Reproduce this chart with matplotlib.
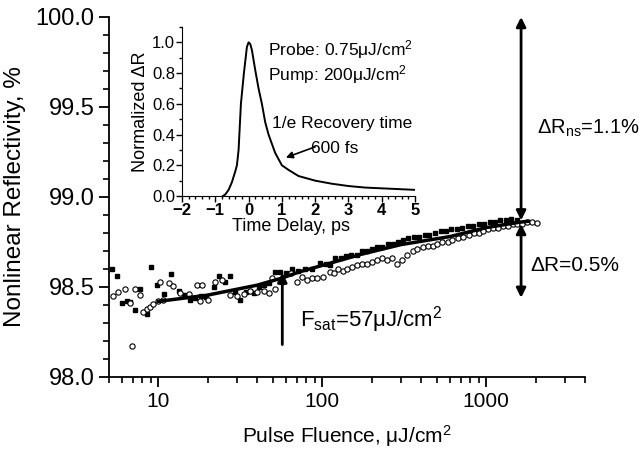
import matplotlib
matplotlib.use("Agg")
import matplotlib.pyplot as plt
from matplotlib.ticker import (MultipleLocator, FixedLocator, FixedFormatter,
                               NullFormatter, FormatStrFormatter)

plt.rcParams['font.family'] = ['Liberation Sans', 'DejaVu Sans']
plt.rcParams['mathtext.fontset'] = 'custom'
plt.rcParams['mathtext.rm'] = 'Liberation Sans'
plt.rcParams['mathtext.it'] = 'Liberation Sans:italic'

# filled squares
sq_F = [5.2, 5.6, 6.0, 6.45, 6.75, 7.2, 7.7, 8.5, 9.06, 9.8, 10.8, 12, 13.3, 14.3,
        15.5, 16.8, 18.2, 19.6, 21.7, 23.3, 25.6, 27.5, 29.5, 31.6, 34, 36, 38.1,
        41, 44, 47, 51.7, 55.5, 60, 65.5, 71, 78, 86, 97, 105, 112, 120, 130, 140,
        150, 162, 175, 188, 200, 215, 230, 250, 270, 290, 310, 335, 360, 390, 420,
        450, 490, 530, 570, 610, 660, 710, 770, 830, 900, 970, 1050, 1130, 1220,
        1320, 1420, 1530]
sq_R = [98.60, 98.56, 98.41, 98.42, 98.415, 98.37, 98.49, 98.35, 98.61, 98.51,
        98.46, 98.57, 98.48, 98.455, 98.43, 98.44, 98.45, 98.445, 98.50, 98.56,
        98.53, 98.56, 98.47, 98.43, 98.47, 98.48, 98.465, 98.50, 98.51, 98.52,
        98.585, 98.585, 98.58, 98.60, 98.59, 98.60, 98.60, 98.635, 98.63, 98.62,
        98.66, 98.66, 98.67, 98.68, 98.68, 98.70, 98.70, 98.71, 98.72, 98.72,
        98.74, 98.74, 98.75, 98.76, 98.77, 98.78, 98.78, 98.79, 98.79, 98.80,
        98.81, 98.81, 98.82, 98.82, 98.83, 98.84, 98.84, 98.85, 98.85, 98.86,
        98.86, 98.87, 98.87, 98.88, 98.87]

# open circles
ci_F = [5.3, 5.7, 6.3, 6.7, 6.9, 7.2, 7.7, 8.1, 8.5, 8.9, 9.3, 10, 10.3, 10.7,
        11.6, 12.3, 13.6, 15.3, 17.2, 18, 18.5, 20, 22.3, 24.4, 27.5, 30, 33.1,
        36.4, 40, 43.9, 47.1, 49.3, 51.7, 57, 64, 70, 75.1, 80.6, 86, 92.8, 101,
        111, 118, 125, 133, 142, 152, 163, 175, 188, 200, 215, 230, 248, 265, 285,
        305, 330, 355, 380, 410, 440, 470, 500, 540, 580, 620, 670, 720, 780, 840,
        900, 960, 1030, 1100, 1180, 1260, 1350, 1450, 1550, 1660, 1780, 1900, 2050]
ci_R = [98.45, 98.47, 98.49, 98.41, 98.17, 98.49, 98.455, 98.36, 98.38, 98.39,
        98.405, 98.42, 98.53, 98.43, 98.52, 98.505, 98.465, 98.46, 98.51, 98.42,
        98.51, 98.43, 98.53, 98.54, 98.455, 98.45, 98.46, 98.48, 98.47, 98.48,
        98.465, 98.55, 98.49, 98.53, 98.575, 98.53, 98.555, 98.54, 98.55, 98.55,
        98.555, 98.585, 98.58, 98.60, 98.59, 98.60, 98.61, 98.62, 98.63, 98.63,
        98.64, 98.65, 98.66, 98.65, 98.66, 98.63, 98.65, 98.68, 98.70, 98.71,
        98.72, 98.73, 98.73, 98.74, 98.75, 98.75, 98.76, 98.77, 98.78, 98.79,
        98.80, 98.80, 98.81, 98.82, 98.83, 98.83, 98.84, 98.84, 98.85, 98.85,
        98.85, 98.86, 98.86, 98.855]

# fit curve
fit_F = [10, 20, 40, 57, 73, 100, 170, 300, 600, 1000, 1600, 1800]
fit_R = [98.42, 98.455, 98.51, 98.55, 98.585, 98.62, 98.68, 98.735, 98.78,
         98.83, 98.86, 98.865]

# inset: pump-probe trace
t_ps = [-0.77, -0.7, -0.6, -0.5, -0.4, -0.35, -0.3, -0.23, -0.14, -0.05, 0.0,
        0.05, 0.1, 0.2, 0.3, 0.4, 0.5, 0.6, 0.8, 1.0, 1.2, 1.5, 2.0, 2.5, 3.0,
        3.5, 4.0, 4.5, 5.0]
dR = [0.0, 0.01, 0.04, 0.09, 0.16, 0.2, 0.3, 0.6, 0.8, 0.97, 1.0, 0.99, 0.95,
      0.82, 0.7, 0.6, 0.48, 0.4, 0.28, 0.2, 0.17, 0.13, 0.1, 0.08, 0.065,
      0.055, 0.05, 0.045, 0.04]

x_major = [10, 100, 1000]
x_labels = ['10', '100', '1000']
x_minor = [m * d for d in (1, 10, 100, 1000) for m in range(2, 10) if 5 <= m * d <= 4000]

fig = plt.figure(figsize=(6.39, 4.53), dpi=100)
ax = fig.add_axes([0.1706, 0.1678, 0.7449, 0.7947])
ax.set_xscale('log')

ax.plot(sq_F, sq_R, 's', color='black', markersize=3.2, linestyle='none')
ax.plot(ci_F, ci_R, 'o', markerfacecolor='white', markeredgecolor='black',
        markersize=3.8, markeredgewidth=0.8, linestyle='none')
ax.plot(fit_F, fit_R, '-', color='black', linewidth=2.5)

ax.set_xlim(5, 4000)
ax.set_ylim(98.0, 100.0)
ax.yaxis.set_major_locator(MultipleLocator(0.5))
ax.yaxis.set_minor_locator(MultipleLocator(0.1))
ax.xaxis.set_major_locator(FixedLocator(x_major))
ax.xaxis.set_minor_locator(FixedLocator(x_minor))
ax.xaxis.set_major_formatter(FixedFormatter(x_labels))
ax.xaxis.set_minor_formatter(NullFormatter())
ax.yaxis.set_major_formatter(FormatStrFormatter('%.1f'))
ax.spines['top'].set_visible(False)
ax.spines['right'].set_visible(False)
ax.spines['left'].set_linewidth(1.3)
ax.spines['bottom'].set_linewidth(1.3)
ax.tick_params(axis='both', which='major', direction='out', length=7, width=1.3,
               labelsize=15, bottom=True, left=True, color='black')
ax.tick_params(axis='both', which='minor', direction='out', length=4, width=1.2,
               bottom=True, left=True, color='black')
ax.tick_params(axis='y', labelsize=17)
ax.set_xlabel('Pulse Fluence, μJ/cm$^2$', fontsize=15, labelpad=9)
ax.set_ylabel('Nonlinear Reflectivity, %', fontsize=17.5, labelpad=7)

# annotation arrows
arr = dict(arrowstyle='<|-|>', color='black', linewidth=2, mutation_scale=14,
           shrinkA=0, shrinkB=0)
ax.annotate('', xy=(1630, 100.0), xytext=(1630, 98.87), arrowprops=arr)
ax.annotate('', xy=(1630, 98.85), xytext=(1630, 98.44), arrowprops=arr)
ax.annotate('', xy=(57, 98.58), xytext=(57, 98.18),
            arrowprops=dict(arrowstyle='-|>', color='black', linewidth=2,
                            mutation_scale=14, shrinkA=0, shrinkB=0))
ax.text(2050, 99.38, 'ΔR$_{\\rm ns}$=1.1%', fontsize=14.5, va='center', ha='left')
ax.text(1850, 98.62, 'ΔR=0.5%', fontsize=15, va='center', ha='left')
ax.text(73, 98.32, 'F$_{\\rm sat}$=57μJ/cm$^2$', fontsize=16, va='center', ha='left')

# inset
ins = fig.add_axes([0.2848, 0.5673, 0.3647, 0.3731])
ins.plot(t_ps, dR, '-', color='black', linewidth=1.4)
ins.set_xlim(-2, 5)
ins.set_ylim(0, 1.1)
ins.xaxis.set_major_locator(MultipleLocator(1))
ins.xaxis.set_minor_locator(MultipleLocator(0.2))
ins.yaxis.set_major_locator(MultipleLocator(0.2))
ins.yaxis.set_minor_locator(MultipleLocator(0.1))
ins.yaxis.set_major_formatter(FormatStrFormatter('%.1f'))
ins.spines['top'].set_visible(False)
ins.spines['right'].set_visible(False)
ins.patch.set_alpha(0)
ins.tick_params(which='major', direction='out', length=4, width=1, labelsize=12, pad=1)
ins.tick_params(which='minor', direction='out', length=2, width=1)
for lab in ins.get_xticklabels():
    lab.set_fontweight('bold')
ins.set_xlabel('Time Delay, ps', fontsize=13, labelpad=0)
ins.xaxis.set_label_coords(0.468, -0.13)
ins.set_ylabel('Normalized ΔR', fontsize=13, labelpad=2)
ins.text(0.58, 0.95, 'Probe: 0.75μJ/cm$^2$', fontsize=12.5, va='center')
ins.text(0.58, 0.79, 'Pump: 200μJ/cm$^2$', fontsize=12.5, va='center')
ins.text(0.7, 0.47, '1/e Recovery time', fontsize=12.5, va='center')
ins.text(2.6, 0.31, '600 fs', fontsize=12.5, va='center', ha='center')
ins.annotate('', xy=(1.12, 0.25), xytext=(2.0, 0.32),
             arrowprops=dict(arrowstyle='-|>', color='black', linewidth=1.2,
                             mutation_scale=10, shrinkA=0, shrinkB=0))

fig.savefig('out.png', dpi=100)
